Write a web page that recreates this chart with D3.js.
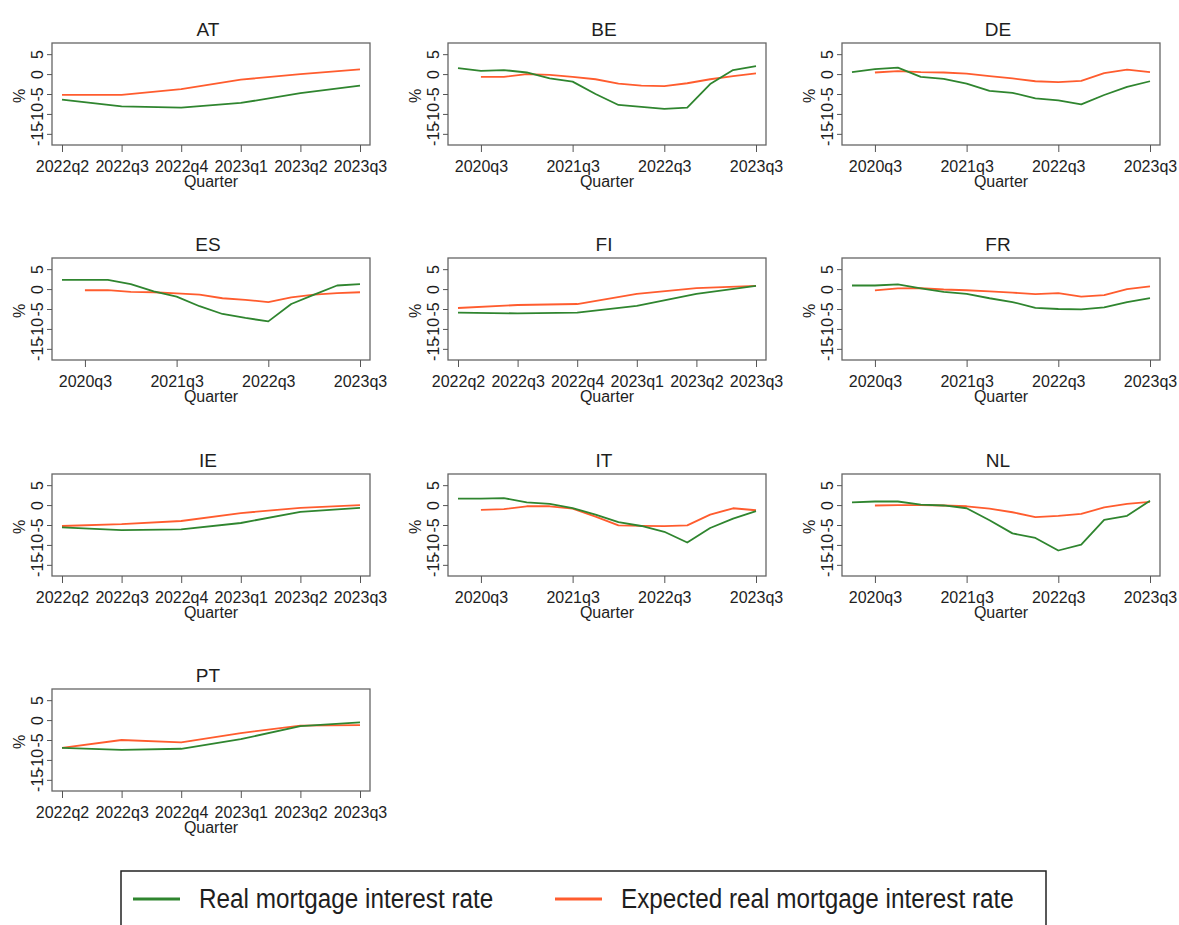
<!DOCTYPE html>
<html lang="en">

<head>
  <title>Real mortgage interest rates</title>
  <meta charset="UTF-8">
  <style>
    body { margin: 0; background: #fff; }
    svg text { font-family: Arial, "Liberation Sans", sans-serif; fill: #1e1e1e; }
  </style>
</head>

<body>
  <svg id="chart" width="1179" height="925"></svg>
  <script src="https://cdn.jsdelivr.net/npm/d3@7"></script>
  <script>
    // quarters on the x axis
    var quartersLong = ["2020q2", "2020q3", "2020q4", "2021q1", "2021q2", "2021q3", "2021q4",
      "2022q1", "2022q2", "2022q3", "2022q4", "2023q1", "2023q2", "2023q3"];
    var quartersShort = ["2022q2", "2022q3", "2022q4", "2023q1", "2023q2", "2023q3"];
    var ticksLong = ["2020q3", "2021q3", "2022q3", "2023q3"];
    var ticksShort = quartersShort;
    var yTicks = [-15, -10, -5, 0, 5];
    var seriesNames = ["Real mortgage interest rate", "Expected real mortgage interest rate"];

    // values (%), expected series starts one quarter later in long panels
    var realAT = [-6.4, -8.1, -8.4, -7.25, -4.8, -2.9];
    var expAT = [-5.2, -5.2, -3.8, -1.4, 0, 1.2];
    var realBE = [1.5, 0.8, 1.0, 0.4, -1.1, -1.9, -5.0, -7.75, -8.25, -8.75, -8.4, -2.5, 1.0, 2.0];
    var expBE = [null, -0.7, -0.7, 0, -0.2, -0.7, -1.3, -2.4, -2.9, -3.0, -2.3, -1.3, -0.5, 0.2];
    var realDE = [0.5, 1.25, 1.6, -0.7, -1.2, -2.4, -4.2, -4.7, -6.1, -6.6, -7.6, -5.25, -3.2, -1.8];
    var expDE = [null, 0.4, 0.75, 0.5, 0.4, 0.1, -0.5, -1.1, -1.8, -2.0, -1.7, 0.25, 1.1, 0.5];
    var realES = [2.3, 2.3, 2.3, 1.25, -0.6, -1.9, -4.3, -6.25, -7.25, -8.1, -3.75, -1.4, 0.9, 1.25];
    var expES = [null, -0.3, -0.25, -0.7, -0.8, -1.1, -1.4, -2.3, -2.7, -3.25, -2.1, -1.4, -1.0, -0.8];
    var realFI = [-5.9, -6.1, -5.9, -4.2, -1.2, 0.8];
    var expFI = [-4.75, -4.0, -3.75, -1.2, 0.25, 0.8];
    var realFR = [0.9, 0.9, 1.2, 0.2, -0.7, -1.2, -2.3, -3.25, -4.7, -5.0, -5.1, -4.6, -3.25, -2.25];
    var expFR = [null, -0.3, 0.2, 0.25, -0.1, -0.3, -0.6, -0.9, -1.25, -1.0, -1.9, -1.5, 0, 0.7];
    var realIE = [-5.6, -6.3, -6.1, -4.5, -1.7, -0.7];
    var expIE = [-5.25, -4.8, -4.0, -2.0, -0.7, 0];
    var realIT = [1.6, 1.6, 1.75, 0.7, 0.3, -0.75, -2.4, -4.3, -5.25, -6.7, -9.4, -5.75, -3.4, -1.5];
    var expIT = [null, -1.2, -1.0, -0.3, -0.3, -0.9, -2.9, -5.1, -5.2, -5.3, -5.1, -2.4, -0.8, -1.3];
    var realNL = [0.7, 0.9, 0.9, 0.1, -0.1, -0.8, -3.8, -7.1, -8.25, -11.4, -9.9, -3.7, -2.7, 1.1];
    var expNL = [null, -0.1, 0, 0, -0.1, -0.3, -0.9, -1.8, -3.0, -2.7, -2.2, -0.6, 0.3, 0.8];
    var realPT = [-7.0, -7.5, -7.2, -4.8, -1.5, -0.6];
    var expPT = [-7.0, -5.0, -5.6, -3.25, -1.4, -1.25];

    var panels = [
      { name: "AT", q: quartersShort, ticks: ticksShort, real: realAT, exp: expAT },
      { name: "BE", q: quartersLong, ticks: ticksLong, real: realBE, exp: expBE },
      { name: "DE", q: quartersLong, ticks: ticksLong, real: realDE, exp: expDE },
      { name: "ES", q: quartersLong, ticks: ticksLong, real: realES, exp: expES },
      { name: "FI", q: quartersShort, ticks: ticksShort, real: realFI, exp: expFI },
      { name: "FR", q: quartersLong, ticks: ticksLong, real: realFR, exp: expFR },
      { name: "IE", q: quartersShort, ticks: ticksShort, real: realIE, exp: expIE },
      { name: "IT", q: quartersLong, ticks: ticksLong, real: realIT, exp: expIT },
      { name: "NL", q: quartersLong, ticks: ticksLong, real: realNL, exp: expNL },
      { name: "PT", q: quartersShort, ticks: ticksShort, real: realPT, exp: expPT }
    ];

    var colors = ["#2f852f", "#ff5c2e"];
    var colX = [52, 448, 842];
    var rowY = [43, 258, 474, 689];
    var boxW = 318, boxH = 102;

    var svg = d3.select("#chart");
    var y = d3.scaleLinear().domain([-17.8, 7.8]).range([boxH, 0]);

    panels.forEach(function (p, i) {
      var g = svg.append("g")
        .attr("transform", "translate(" + colX[i % 3] + "," + rowY[Math.floor(i / 3)] + ")");
      var x = d3.scalePoint().domain(p.q).range([10, boxW - 10]);

      g.append("rect")
        .attr("width", boxW).attr("height", boxH)
        .attr("fill", "none").attr("stroke", "#666").attr("stroke-width", 1.3);

      // x axis
      var xa = g.append("g").attr("transform", "translate(0," + boxH + ")")
        .call(d3.axisBottom(x).tickValues(p.ticks).tickSize(7));
      xa.select(".domain").remove();
      xa.selectAll("line").attr("stroke", "#555");
      xa.selectAll("text").attr("y", 27).attr("dy", 0)
        .style("font-size", "16px").style("font-family", "Arial, 'Liberation Sans', sans-serif").attr("fill", "#1e1e1e");

      // y axis with vertical labels (plain hyphen minus like the original)
      var ya = g.append("g").call(d3.axisLeft(y).tickValues(yTicks).tickSize(5).tickFormat(String));
      ya.select(".domain").remove();
      ya.selectAll("line").attr("stroke", "#555");
      ya.selectAll("text")
        .attr("transform", "rotate(-90)")
        .attr("x", 0).attr("y", -9).attr("dy", 0)
        .attr("text-anchor", "middle")
        .style("font-size", "16px").style("font-family", "Arial, 'Liberation Sans', sans-serif").attr("fill", "#1e1e1e");

      g.append("text")
        .attr("x", boxW / 2 - 3).attr("y", -7)
        .attr("text-anchor", "middle").style("font-size", "19px")
        .text(p.name);
      g.append("text")
        .attr("x", boxW / 2).attr("y", boxH + 42)
        .attr("text-anchor", "middle").style("font-size", "16px")
        .text("Quarter");
      g.append("text")
        .attr("transform", "translate(-27," + (boxH / 2 + 2) + ") rotate(-90)")
        .attr("text-anchor", "middle").style("font-size", "16px")
        .text("%");

      var line = d3.line()
        .defined(function (d) { return d.v != null; })
        .x(function (d) { return x(d.q); })
        .y(function (d) { return y(d.v); });

      [p.exp, p.real].forEach(function (vals, k) {
        var pts = p.q.map(function (q, j) { return { q: q, v: vals[j] }; });
        g.append("path")
          .datum(pts)
          .attr("fill", "none")
          .attr("stroke", k === 0 ? colors[1] : colors[0])
          .attr("stroke-width", 1.8)
          .attr("stroke-linejoin", "round")
          .attr("d", line);
      });
    });

    // legend
    var lg = svg.append("g");
    lg.append("rect")
      .attr("x", 121).attr("y", 871).attr("width", 925).attr("height", 80)
      .attr("fill", "#fff").attr("stroke", "#222").attr("stroke-width", 1.5);
    var legX = [133, 555];
    seriesNames.forEach(function (name, k) {
      lg.append("line")
        .attr("x1", legX[k]).attr("x2", legX[k] + 47)
        .attr("y1", 899).attr("y2", 899)
        .attr("stroke", colors[k]).attr("stroke-width", 3);
      lg.append("text")
        .attr("transform", "translate(" + (legX[k] + 66) + ",907.5) scale(0.9,1)")
        .style("font-size", "27px")
        .text(name);
    });
  </script>
</body>

</html>
